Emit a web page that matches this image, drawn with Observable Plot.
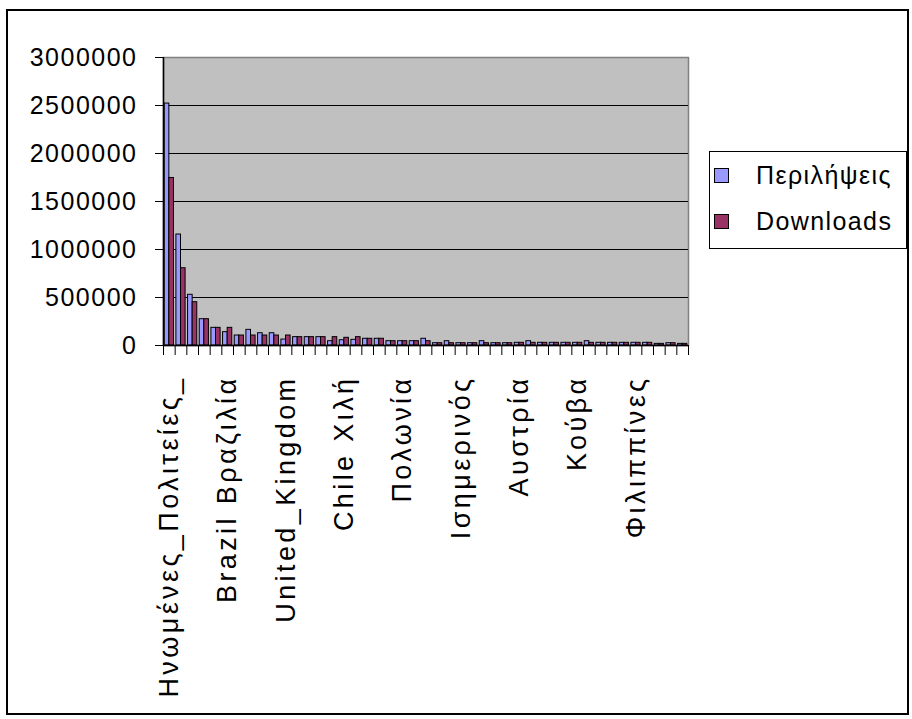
<!DOCTYPE html>
<html>
<head>
<meta charset="utf-8">
<script src="https://cdn.jsdelivr.net/npm/d3@7"></script>
<script src="https://cdn.jsdelivr.net/npm/@observablehq/plot@0.6"></script>
<style>
  html, body { margin: 0; padding: 0; background: #fff; }
  #wrap { position: relative; width: 912px; height: 719px; font-family: "Liberation Sans", Arial, sans-serif; }
  #frame { position: absolute; left: 6px; top: 9px; width: 899px; height: 702px; border: 2px solid #000; pointer-events: none; }
  #chart { position: absolute; left: 0; top: 0; }
  #legend { position: absolute; left: 709px; top: 151px; width: 196px; height: 96px; border: 1px solid #000; background: #fff; }
  .item { position: absolute; left: 4px; display: flex; align-items: center; font-size: 25px; letter-spacing: 1.4px; color: #000; }
  .sw { width: 13px; height: 13px; border: 1px solid #000; margin-right: 27px; }
  #chart g[aria-label="y-axis tick label"] text { letter-spacing: 1.5px; }
  #chart g[aria-label="x-axis tick label"] text { letter-spacing: 3.4px; }
</style>
</head>
<body>
<div id="wrap">
  <div id="chart"></div>
  <div id="frame"></div>
  <div id="legend"></div>
</div>
<script>
const countries = [
  "Ηνωμένες_Πολιτείες_", "Germany Γερμανία", "Ελλάδα", "Καναδάς", "Ιταλία",
  "Brazil Βραζιλία", "Γαλλία", "Ισπανία", "Ολλανδία", "Μεξικό",
  "United_Kingdom", "Ιαπωνία", "Αυστραλία", "Ινδία", "Αργεντινή",
  "Chile Χιλή", "Κολομβία", "Περού", "Βέλγιο", "Σουηδία",
  "Πολωνία", "Πορτογαλία", "Ελβετία", "Βενεζουέλα", "Ρωσία",
  "Ισημερινός", "Κίνα", "Τουρκία", "Νορβηγία", "Δανία",
  "Αυστρία", "Φινλανδία", "Ιρλανδία", "Ισραήλ", "Ουρουγουάη",
  "Κούβα", "Νότια_Αφρική", "Κορέα", "Ρουμανία", "Ουγγαρία",
  "Φιλιππίνες", "Ταϊβάν", "Τσεχία", "Κόστα_Ρίκα", "Βολιβία"
];
const perilipseis = [
  2520000, 1156000, 528000, 274000, 184000,
  139000, 104000, 163000, 128000, 128000,
  62000, 87000, 87000, 87000, 45000,
  55000, 59000, 70000, 70000, 45000,
  45000, 45000, 70000, 24000, 45000,
  24000, 24000, 45000, 24000, 24000,
  28000, 45000, 28000, 28000, 28000,
  28000, 45000, 28000, 28000, 28000,
  28000, 28000, 17000, 24000, 17000
];
const downloads = [
  1745000, 805000, 451000, 274000, 184000,
  184000, 104000, 104000, 104000, 104000,
  104000, 87000, 87000, 87000, 87000,
  80000, 87000, 70000, 70000, 45000,
  45000, 45000, 45000, 24000, 24000,
  24000, 24000, 24000, 24000, 24000,
  28000, 28000, 28000, 28000, 28000,
  28000, 28000, 28000, 28000, 28000,
  28000, 28000, 17000, 24000, 17000
];
const seriesNames = ["Περιλήψεις", "Downloads"];
const seriesColors = ["#9999FF", "#993366"];
const yTicks = [0, 500000, 1000000, 1500000, 2000000, 2500000, 3000000];
const labelledCountries = ["Ηνωμένες_Πολιτείες_", "Brazil Βραζιλία", "United_Kingdom", "Chile Χιλή", "Πολωνία", "Ισημερινός", "Αυστρία", "Κούβα", "Φιλιππίνες"];

const W = 912, H = 719;
const mL = 163, mR = 224, mT = 57, mB = 374;
const step = (W - mL - mR) / countries.length;
const bw = 4.6;
const gap = (step - 2 * bw) / 2;

const rowsP = countries.map((c, i) => ({country: c, series: seriesNames[0], value: perilipseis[i]}));
const rowsD = countries.map((c, i) => ({country: c, series: seriesNames[1], value: downloads[i]}));

const font = "'Liberation Sans', Arial, sans-serif";

const chart = Plot.plot({
  width: W,
  height: H,
  marginLeft: mL,
  marginRight: mR,
  marginTop: mT,
  marginBottom: mB,
  style: {fontFamily: font, fontSize: "25px", color: "#000", background: "transparent"},
  x: {type: "band", domain: countries, padding: 0, round: false, label: null},
  y: {domain: [0, 3000000], label: null},
  marks: [
    Plot.frame({fill: "#C0C0C0", stroke: "#808080", strokeWidth: 1.5}),
    Plot.gridY(yTicks.slice(1, -1), {stroke: "#000", strokeOpacity: 1, strokeWidth: 1.2}),
    Plot.barY(rowsP, {x: "country", y: "value", fill: seriesColors[0], stroke: "#000", strokeWidth: 1, insetLeft: gap, insetRight: gap + bw}),
    Plot.barY(rowsD, {x: "country", y: "value", fill: seriesColors[1], stroke: "#000", strokeWidth: 1, insetLeft: gap + bw, insetRight: gap}),
    Plot.ruleY([0], {stroke: "#000", strokeWidth: 1.5}),
    Plot.ruleX([countries[0]], {y1: 0, y2: 3000000, stroke: "#000", strokeWidth: 1.5, dx: -step / 2}),
    Plot.axisY({ticks: yTicks, tickSize: 8, tickPadding: 18, tickFormat: d => String(d), fontSize: 25, label: null}),
    Plot.axisX({ticks: countries, tickSize: 10, tickFormat: () => "", dx: -step / 2, label: null}),
    Plot.axisX({ticks: [countries[countries.length - 1]], tickSize: 10, tickFormat: () => "", dx: step / 2, label: null}),
    Plot.axisX({ticks: labelledCountries, tickSize: 0, tickPadding: 30, tickRotate: -90, fontSize: 27, tickFormat: d => d, label: null})
  ]
});
document.getElementById("chart").appendChild(chart);

const legend = document.getElementById("legend");
seriesNames.forEach((name, i) => {
  const item = document.createElement("div");
  item.className = "item";
  item.style.top = (i === 0 ? 9 : 55) + "px";
  const sw = document.createElement("div");
  sw.className = "sw";
  sw.style.background = seriesColors[i];
  const label = document.createElement("span");
  label.textContent = name;
  item.appendChild(sw);
  item.appendChild(label);
  legend.appendChild(item);
});
</script>
</body>
</html>
